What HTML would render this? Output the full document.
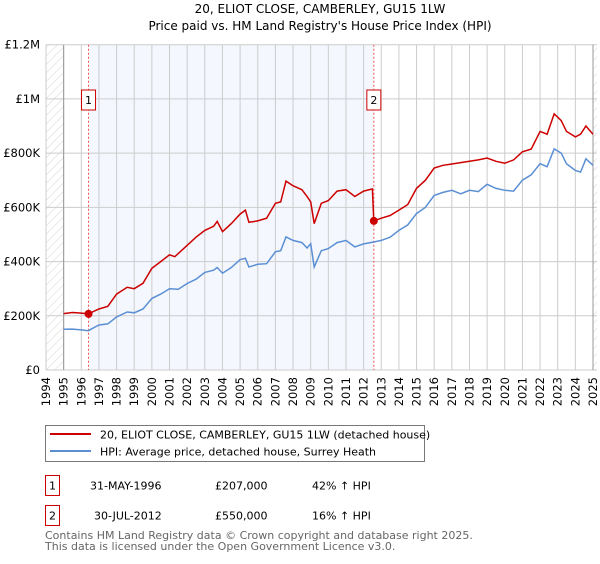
<!DOCTYPE html>
<html><head><meta charset="utf-8"><style>
body{margin:0;background:#fff;width:600px;height:560px;overflow:hidden;font-family:"DejaVu Sans","Liberation Sans",sans-serif;}
svg text{font-family:"DejaVu Sans","Liberation Sans",sans-serif;}
</style></head><body>
<svg id="chart" width="600" height="560" xmlns="http://www.w3.org/2000/svg">
<defs><pattern id="hatch" width="6" height="6" patternUnits="userSpaceOnUse" patternTransform="rotate(45)"><line x1="0" y1="0" x2="0" y2="6" stroke="#d4d4d4" stroke-width="1"/></pattern></defs>
<text x="320" y="13" text-anchor="middle" font-size="12">20, ELIOT CLOSE, CAMBERLEY, GU15 1LW</text>
<text x="320" y="30" text-anchor="middle" font-size="12">Price paid vs. HM Land Registry's House Price Index (HPI)</text>
<g id="plot"></g>
<rect x="45.5" y="425.5" width="379" height="36" fill="#fff" stroke="#777"/>
<line x1="50" y1="434" x2="91" y2="434" stroke="#cc0000" stroke-width="2"/>
<text x="100" y="438.5" font-size="11">20, ELIOT CLOSE, CAMBERLEY, GU15 1LW (detached house)</text>
<line x1="50" y1="451" x2="91" y2="451" stroke="#5b8fd4" stroke-width="2"/>
<text x="100" y="455.5" font-size="11">HPI: Average price, detached house, Surrey Heath</text>
<g font-size="11">
<rect x="45.5" y="475.5" width="14" height="20" fill="#fff" stroke="#cc0000"/>
<text x="52.5" y="489.5" text-anchor="middle">1</text>
<text x="90" y="489.5">31-MAY-1996</text><text x="215" y="489.5">£207,000</text><text x="312" y="489.5">42% ↑ HPI</text>
</g>
<g font-size="11">
<rect x="45.5" y="505.5" width="14" height="20" fill="#fff" stroke="#cc0000"/>
<text x="52.5" y="519.5" text-anchor="middle">2</text>
<text x="94" y="519.5">30-JUL-2012</text><text x="215" y="519.5">£550,000</text><text x="312" y="519.5">16% ↑ HPI</text>
</g>
<text x="45" y="539" font-size="11" fill="#666">Contains HM Land Registry data © Crown copyright and database right 2025.</text>
<text x="45" y="550" font-size="11" fill="#666">This data is licensed under the Open Government Licence v3.0.</text>
</svg>
<script>
const yTickValues=[0,200000,400000,600000,800000,1000000,1200000];
const yTickLabels=["£0","£200K","£400K","£600K","£800K","£1M","£1.2M"];
const years=[1994,1995,1996,1997,1998,1999,2000,2001,2002,2003,2004,2005,2006,2007,2008,2009,2010,2011,2012,2013,2014,2015,2016,2017,2018,2019,2020,2021,2022,2023,2024,2025];
const hpiDates=[1995,1995.5,1996,1996.4,1997,1997.5,1998,1998.6,1999,1999.5,2000,2000.5,2001,2001.5,2002,2002.5,2003,2003.5,2003.7,2004,2004.5,2005,2005.3,2005.5,2006,2006.5,2007,2007.3,2007.6,2008,2008.5,2008.8,2009,2009.2,2009.6,2010,2010.5,2011,2011.5,2012,2012.58,2013,2013.5,2014,2014.5,2015,2015.5,2016,2016.5,2017,2017.5,2018,2018.5,2019,2019.5,2020,2020.5,2021,2021.5,2022,2022.4,2022.8,2023.2,2023.5,2024,2024.3,2024.6,2025];
const hpiValues=[150000,151000,148000,145000,166000,170000,196000,214000,211000,225000,264000,280000,300000,298000,319000,335000,360000,368000,378000,357000,378000,407000,412000,380000,390000,392000,436000,440000,491000,478000,470000,450000,466000,380000,440000,448000,470000,478000,454000,465000,472000,478000,490000,515000,535000,577000,600000,644000,655000,663000,650000,663000,658000,685000,670000,663000,660000,700000,720000,761000,750000,816000,800000,761000,736000,730000,779000,755000];
const priceDates=[1995,1995.5,1996,1996.4,1997,1997.5,1998,1998.6,1999,1999.5,2000,2000.5,2001,2001.3,2002,2002.5,2003,2003.5,2003.7,2004,2004.5,2005,2005.3,2005.5,2006,2006.5,2007,2007.3,2007.6,2008,2008.5,2008.8,2009,2009.2,2009.6,2010,2010.5,2011,2011.5,2012,2012.5,2012.58,2013,2013.5,2014,2014.5,2015,2015.5,2016,2016.5,2017,2017.5,2018,2018.5,2019,2019.5,2020,2020.5,2021,2021.5,2022,2022.4,2022.8,2023.2,2023.5,2024,2024.3,2024.6,2025];
const priceValues=[208000,212000,210000,207000,225000,235000,280000,305000,300000,320000,375000,400000,425000,418000,460000,490000,515000,530000,548000,510000,540000,575000,590000,545000,550000,560000,615000,620000,697000,680000,665000,640000,620000,540000,615000,625000,660000,665000,640000,660000,668000,550000,560000,570000,590000,610000,670000,700000,745000,755000,760000,765000,770000,775000,782000,770000,763000,775000,805000,815000,880000,870000,945000,920000,880000,860000,870000,900000,870000];
const sales=[{n:"1",d:1996.41,v:207000},{n:"2",d:2012.58,v:550000}];
const X0=46,X1=593,Y0=370,Y1=44.7;
const xs=d=>X0+(d-1994)/(2025-1994)*(X1-X0);
const ys=v=>Y0-v/1200000*(Y0-Y1);
const NS="http://www.w3.org/2000/svg";
const g=document.getElementById('plot');
function mk(t,a,p){const e=document.createElementNS(NS,t);for(const k in a)e.setAttribute(k,a[k]);(p||g).appendChild(e);return e;}
let e;
e=mk('rect',{x:X0,y:Y1,width:xs(1995)-X0,height:Y0-Y1,fill:'url(#hatch)'});


e=mk('rect',{x:xs(2025),y:Y1,width:597-xs(2025),height:Y0-Y1,fill:'url(#hatch)'});


e=mk('rect',{x:xs(sales[0].d),y:Y1,width:xs(sales[1].d)-xs(sales[0].d),height:Y0-Y1,fill:'#f4f7fe'});


years.forEach(y=>{
 e=mk('line',{x1:xs(y),x2:xs(y),y1:Y1,y2:Y0,stroke:'#ccc','stroke-width':1});
 
 
 e=mk('text',{transform:`translate(${xs(y)+4},${Y0+7}) rotate(-90)`,'text-anchor':'end','font-size':11.5});
 e.textContent=y;
 
 
});
yTickValues.forEach((v,i)=>{
 e=mk('line',{x1:X0,x2:597,y1:ys(v),y2:ys(v),stroke:'#ccc','stroke-width':1});
 
 
 e=mk('text',{x:40,y:ys(v)+4,'text-anchor':'end','font-size':11.5});
 e.textContent=yTickLabels[i];
 
 
});
e=mk('line',{x1:xs(1995),x2:xs(1995),y1:Y1,y2:Y0,stroke:'#999'});


e=mk('line',{x1:xs(2025),x2:xs(2025),y1:Y1,y2:Y0,stroke:'#999'});


sales.forEach(s=>{
 e=mk('line',{x1:xs(s.d),x2:xs(s.d),y1:Y1,y2:Y0,stroke:'#e55','stroke-dasharray':'2,2'});
 
 
 const bx=xs(s.d)-7;
 e=mk('rect',{x:bx,y:90,width:14,height:20,fill:'#fff',stroke:'#cc0000'});
 
 
 e=mk('text',{x:xs(s.d),y:104,'text-anchor':'middle','font-size':11});
 e.textContent=s.n;
 
 
});
function line(ds,vs,c){return ds.map((d,i)=>(i?'L':'M')+xs(d).toFixed(1)+','+ys(vs[i]).toFixed(1)).join('');}
e=mk('path',{d:line(hpiDates,hpiValues),fill:'none',stroke:'#5b8fd4','stroke-width':1.5});


e=mk('path',{d:line(priceDates,priceValues),fill:'none',stroke:'#cc0000','stroke-width':1.5});


sales.forEach(s=>{
 e=mk('circle',{cx:xs(s.d),cy:ys(s.v),r:4,fill:'#cc0000'});
 
 
});
</script>
</body></html>
